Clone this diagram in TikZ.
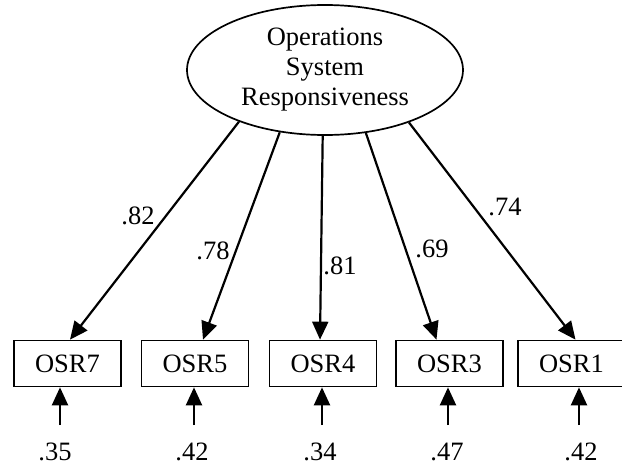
\documentclass[tikz,border=0pt]{standalone}
\usepackage{fontspec}
\setmainfont{Liberation Serif}
\usetikzlibrary{shapes.geometric,arrows.meta}
\begin{document}
\begin{tikzpicture}[x=1pt,y=-1pt,
  font=\fontsize{26.5}{30}\selectfont,
  latent/.style={ellipse,draw,line width=1.7pt,minimum width=276pt,minimum height=130pt,inner sep=0pt,align=center},
  obs/.style={rectangle,draw,line width=1.7pt,minimum width=107pt,minimum height=46pt,inner sep=0pt},
  path/.style={line width=2.2pt,-{Triangle[length=18pt,width=16pt]}},
  lbl/.style={inner sep=0pt}]
\useasboundingbox (0,0) rectangle (622,466);
\node[latent] (F) at (325,70) {Operations\\System\\Responsiveness};
\node[obs] (b7) at (67.5,363.5) {OSR7};
\node[obs] (b5) at (195,363.5) {OSR5};
\node[obs] (b4) at (323,363.5) {OSR4};
\node[obs] (b3) at (449.5,363.5) {OSR3};
\node[obs] (b1) at (571.5,363.5) {OSR1};
\draw[path] (F.211) -- ([xshift=2.5pt]b7.north);
\draw[path] (F.234) -- ([xshift=8pt]b5.north);
\draw[path] (F.268) -- ([xshift=-3pt]b4.north);
\draw[path] (F.303) -- ([xshift=-13pt]b3.north);
\draw[path] (F.328) -- ([xshift=4pt]b1.north);
\node[lbl] (l82) at (138,216) {.82};
\node[lbl] (l78) at (213,251) {.78};
\node[lbl] (l81) at (340,266) {.81};
\node[lbl] (l69) at (432,249) {.69};
\node[lbl] (l74) at (505,207) {.74};
\coordinate (e7) at (60,425);
\coordinate (e5) at (194,425);
\coordinate (e4) at (322,425);
\coordinate (e3) at (448,425);
\coordinate (e1) at (579,425);
\draw[path] (e7) -- (e7 |- b7.south);
\draw[path] (e5) -- (e5 |- b5.south);
\draw[path] (e4) -- (e4 |- b4.south);
\draw[path] (e3) -- (e3 |- b3.south);
\draw[path] (e1) -- (e1 |- b1.south);
\node[lbl] (r7) at (55,452) {.35};
\node[lbl] (r5) at (192,452) {.42};
\node[lbl] (r4) at (320,452) {.34};
\node[lbl] (r3) at (447,452) {.47};
\node[lbl] (r1) at (581,452) {.42};
\end{tikzpicture}
\end{document}
